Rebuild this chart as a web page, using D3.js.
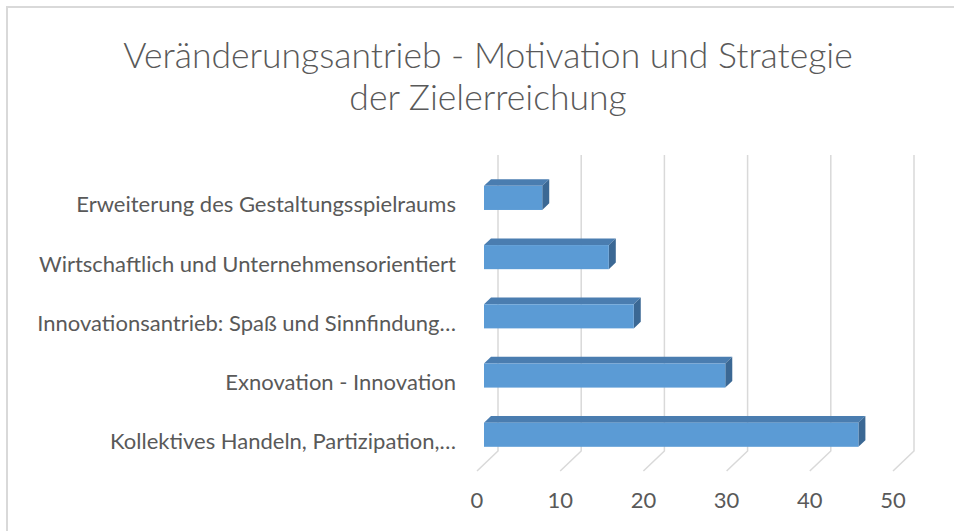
<!DOCTYPE html>
<html>
<head>
<meta charset="utf-8">
<script src="https://cdn.jsdelivr.net/npm/d3@7"></script>
<style>
  html, body { margin: 0; padding: 0; background: #ffffff; overflow: hidden; }
  svg { display: block; }
</style>
</head>
<body>
<script>
// ---- data ----
const titleLines = ["Veränderungsantrieb - Motivation und Strategie", "der Zielerreichung"];
const categories = [
  "Erweiterung des Gestaltungsspielraums",
  "Wirtschaftlich und Unternehmensorientiert",
  "Innovationsantrieb: Spaß und Sinnfindung…",
  "Exnovation - Innovation",
  "Kollektives Handeln, Partizipation,…"
];
const values = [7, 15, 18, 29, 45];
const tickValues = [0, 10, 20, 30, 40, 50];

// ---- layout ----
const W = 954, H = 531;
const wallTop = 155, wallBottom = 451;
const backLeft = 498, backRight = 914;
const depthDx = -21, depthDy = 20;         // floor front relative to back wall
const barFront = 2 / 3, barBack = 1 / 3;   // bar depth as fraction of floor depth

const svg = d3.select("body").append("svg")
  .attr("width", W).attr("height", H);

// chart border
svg.append("rect")
  .attr("x", 7).attr("y", 7)
  .attr("width", W + 20).attr("height", H + 20)
  .attr("fill", "none").attr("stroke", "#d9d9d9").attr("stroke-width", 2);

// title
const title = svg.append("text")
  .attr("text-anchor", "middle")
  .attr("font-family", "Lato, 'Open Sans', sans-serif")
  .attr("font-weight", 300)
  .attr("font-size", 35.5)
  .attr("fill", "#595959");
titleLines.forEach((t, i) => {
  title.append("tspan").attr("x", 488).attr("y", 68 + i * 42).text(t);
});

// scales
const x = d3.scaleLinear().domain([0, 50]).range([backLeft, backRight]);
const y = d3.scaleBand().domain(categories).range([wallTop, wallBottom]).paddingInner(0.593).paddingOuter(0.296);
const yBand = d3.scaleBand().domain(categories).range([wallTop, wallBottom]);

// gridlines (back wall vertical + floor diagonal)
const grid = svg.append("g");
tickValues.forEach(v => {
  const gx = x(v);
  grid.append("path")
    .attr("d", `M${gx},${wallTop} L${gx},${wallBottom} L${gx + depthDx},${wallBottom + depthDy}`)
    .attr("fill", "none").attr("stroke", "#d9d9d9").attr("stroke-width", 1.5);
});

// bars
const fdx = depthDx * barFront, fdy = depthDy * barFront;   // front face offset
const bdx = depthDx * barBack, bdy = depthDy * barBack;     // back face offset
const bars = svg.append("g");
categories.forEach((c, i) => {
  const v = values[i];
  const x0 = x(0) + fdx, x1 = x(v) + fdx;
  const y0 = y(c) + fdy, y1 = y(c) + y.bandwidth() + fdy;
  const ox = bdx - fdx, oy = bdy - fdy;
  // top face
  bars.append("path")
    .attr("d", `M${x0},${y0} L${x0 + ox},${y0 + oy} L${x1 + ox},${y0 + oy} L${x1},${y0} Z`)
    .attr("fill", "#4a7db0");
  // right side face
  bars.append("path")
    .attr("d", `M${x1},${y0} L${x1 + ox},${y0 + oy} L${x1 + ox},${y1 + oy} L${x1},${y1} Z`)
    .attr("fill", "#3b6894");
  // front face
  bars.append("rect")
    .attr("x", x0).attr("y", y0)
    .attr("width", x1 - x0).attr("height", y1 - y0)
    .attr("fill", "#5b9bd5");
});

// category labels (at floor front)
svg.append("g").selectAll("text").data(categories).join("text")
  .attr("x", 456)
  .attr("y", d => yBand(d) + yBand.bandwidth() / 2 + depthDy)
  .attr("dy", "0.35em")
  .attr("text-anchor", "end")
  .attr("font-family", "Lato, 'Open Sans', sans-serif")
  .attr("font-size", 22)
  .attr("fill", "#595959")
  .text(d => d);

// value axis tick labels (at floor front)
svg.append("g").selectAll("text").data(tickValues).join("text")
  .attr("x", d => x(d) + depthDx)
  .attr("y", 500)
  .attr("dy", "0.35em")
  .attr("text-anchor", "middle")
  .attr("font-family", "Lato, 'Open Sans', sans-serif")
  .attr("font-size", 22)
  .attr("fill", "#595959")
  .text(d => d);
</script>
</body>
</html>
